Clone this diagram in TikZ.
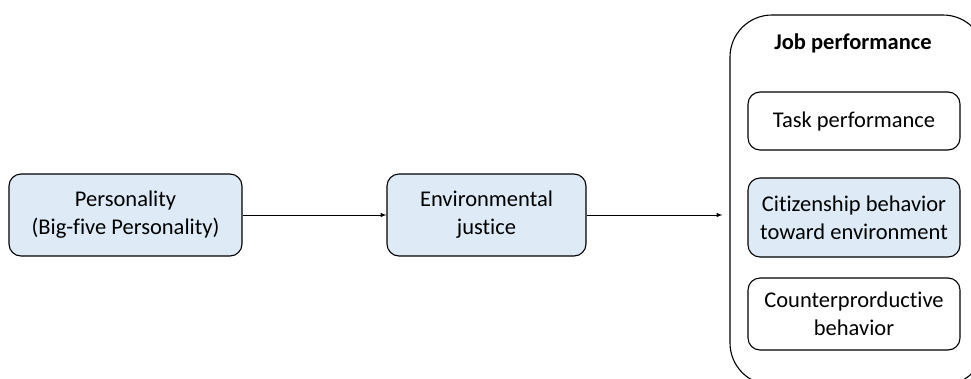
\documentclass[tikz,border=0pt]{standalone}
\usepackage{fontspec}
\setmainfont{Carlito}[RawFeature={-liga;-dlig;-clig}]
\definecolor{boxblue}{HTML}{DEEBF7}
\tikzset{
    box/.style={draw, line width=1.1pt, rounded corners=12pt, align=center,
        inner sep=0pt, minimum width=#1},
    box/.default=212pt,
    bluebox/.style={box=#1, fill=boxblue},
    bluebox/.default=212pt,
    link/.style={->, >=latex, line width=1pt},
}
\begin{document}
\begin{tikzpicture}[x=1pt,y=-1pt,font=\fontsize{22.5}{28}\selectfont]
        \useasboundingbox (0,0) rectangle (971,378);
        \clip (0,0) rectangle (971,378);
        \node[box=255pt, minimum height=370pt, rounded corners=42pt] (jobp) at (857.5,200) {};
        \node[font=\fontsize{22.5}{28}\selectfont\bfseries] (jobt) at (853,43) {Job performance};
        \node[bluebox=233pt, minimum height=82pt] (pers) at (125.5,215) {Personality\\(Big-five Personality)};
        \node[bluebox=199pt, minimum height=82pt] (envj) at (486.5,215) {Environmental\\justice};
        \node[box, minimum height=58pt] (task) at (854,121) {Task performance};
        \node[bluebox, minimum height=79pt] (citz) at (854,217.5) {Citizenship behavior\\toward environment};
        \node[box, minimum height=72pt] (cntr) at (854,314) {Counterprorductive\\behavior};
        \draw[link] (pers) -- (envj);
        \draw[link, shorten >=7pt] (envj.east) -- (envj.east -| jobp.west);
\end{tikzpicture}
\end{document}
